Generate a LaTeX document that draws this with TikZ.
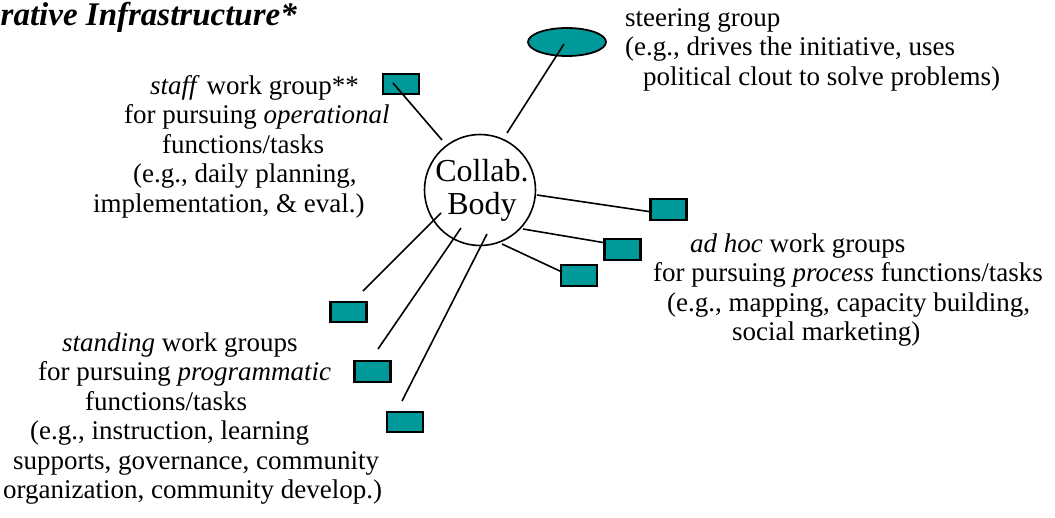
\documentclass[tikz,border=0pt]{standalone}
\usepackage{fontspec}
\setmainfont{Liberation Serif}
\usetikzlibrary{shapes.geometric}
\definecolor{tealfill}{RGB}{0,153,153}
\tikzset{
  grp/.style={draw=black, fill=tealfill, line width=2.2pt, rectangle, minimum width=36pt, minimum height=20.5pt, inner sep=0pt},
  conn/.style={draw=black, line width=1.6pt},
  textblk/.style={anchor=north west, inner sep=0pt, align=left, font=\fontsize{27}{29.5}\selectfont},
}
\begin{document}
\begin{tikzpicture}[x=1pt,y=-1pt]
\useasboundingbox (0,0) rectangle (1055,517);
% title
\node[anchor=base west, inner sep=0pt, font=\fontsize{33}{36}\selectfont\bfseries\itshape] (title) at (0.5,25) {rative Infrastructure*};
% central body
\node[draw=black, line width=1.6pt, circle, minimum size=111pt, inner sep=0pt] (cb) at (480,190) {};
\node[anchor=north, inner sep=0pt, align=center, font=\fontsize{32}{33}\selectfont] (cbtxt) at (482,158.6) {\strut Collab.\\Body};
% steering group
\node[ellipse, draw=black, fill=tealfill, line width=1.8pt, minimum width=78pt, minimum height=28pt, inner sep=0pt] (steer) at (567,42) {};
% work group boxes
\node[grp] (staff) at (401,84) {};
\node[grp] (ah1) at (668.5,209.5) {};
\node[grp] (ah2) at (622.5,249.5) {};
\node[grp] (ah3) at (579,275.5) {};
\node[grp] (st1) at (348.5,312) {};
\node[grp] (st2) at (372.5,371.5) {};
\node[grp] (st3) at (405,422) {};
% connector end points
\coordinate (steerA) at (564,44);   \coordinate (steerB) at (507,133);
\coordinate (staffA) at (393,83);   \coordinate (staffB) at (442,140);
\coordinate (ah1A) at (537,195);    \coordinate (ah1B) at (652,212);
\coordinate (ah2A) at (523,229);    \coordinate (ah2B) at (606,243);
\coordinate (ah3A) at (502,244);    \coordinate (ah3B) at (562,272);
\coordinate (st1A) at (441,213);    \coordinate (st1B) at (363,291);
\coordinate (st2A) at (461,228);    \coordinate (st2B) at (378,349);
\coordinate (st3A) at (487,234);    \coordinate (st3B) at (402,401);
\draw[conn] (steerA) -- (steerB);
\draw[conn] (staffA) -- (staffB);
\draw[conn] (ah1A) -- (ah1B);
\draw[conn] (ah2A) -- (ah2B);
\draw[conn] (ah3A) -- (ah3B);
\draw[conn] (st1A) -- (st1B);
\draw[conn] (st2A) -- (st2B);
\draw[conn] (st3A) -- (st3B);
% labels
\node[textblk] (steertxt) at (625,5.35) {\strut steering group\\(e.g., drives the initiative, uses\\\hspace*{18pt}political clout to solve problems)};
\node[textblk] (stafftxt) at (93,73.35) {\hspace*{57pt}\strut\textit{staff} work group**\\\hspace*{31pt}for pursuing \textit{operational}\\\hspace*{69pt}functions/tasks\\\hspace*{40pt}(e.g., daily planning,\\implementation, \& eval.)};
\node[textblk] (adhoctxt) at (653,231.35) {\hspace*{37pt}\strut\textit{ad hoc} work groups\\for pursuing \textit{process} functions/tasks\\\hspace*{14pt}(e.g., mapping, capacity building,\\\hspace*{79pt}social marketing)};
\node[textblk] (standtxt) at (3,330.35) {\hspace*{59pt}\strut\textit{standing} work groups\\\hspace*{35pt}for pursuing \textit{programmatic}\\\hspace*{82pt}functions/tasks\\\hspace*{27pt}(e.g., instruction, learning\\\hspace*{10pt}supports, governance, community\\organization, community develop.)};
\end{tikzpicture}
\end{document}
